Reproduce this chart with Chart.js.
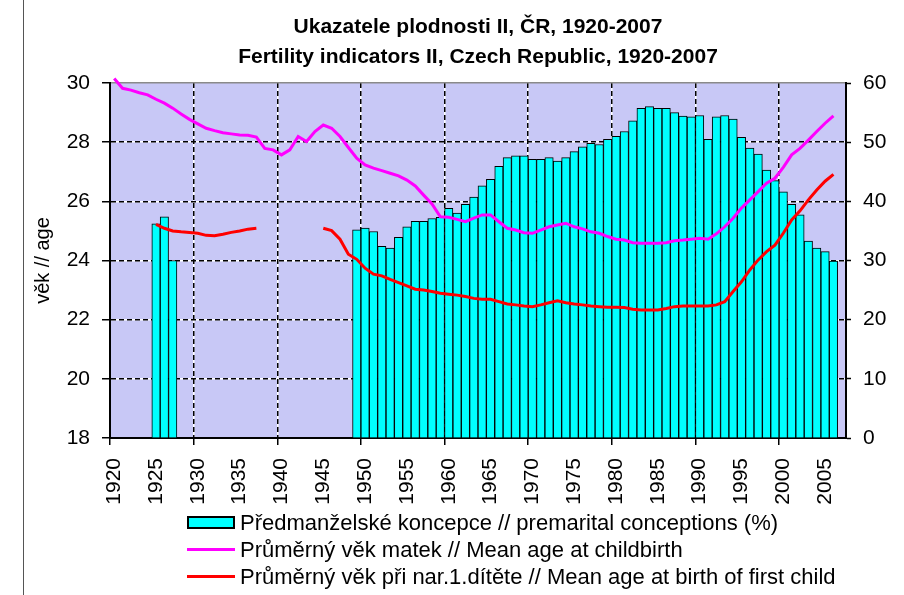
<!DOCTYPE html>
<html><head><meta charset="utf-8">
<script src="https://cdn.jsdelivr.net/npm/chart.js@4.4.0/dist/chart.umd.min.js"></script>
<style>
html,body{margin:0;padding:0;background:#fff;overflow:hidden;}
#wrap{position:relative;width:904px;height:595px;}
#c{position:absolute;left:0;top:0;}
#frame{position:absolute;left:23px;top:0;width:1px;height:595px;background:#555;}
#legend{position:absolute;left:187px;top:509px;font-family:'Liberation Sans',Arial,sans-serif;font-size:22px;color:#000;}
.row{height:27px;white-space:nowrap;display:flex;align-items:center;}
.sw{display:inline-block;width:48px;margin-right:5px;box-sizing:border-box;flex:none;}
</style></head><body>
<div id="wrap"><canvas id="c" width="904" height="595" style="width:904px;height:595px"></canvas><div id="frame"></div><div id="legend"></div></div>
<script>
const years = [1920,1921,1922,1923,1924,1925,1926,1927,1928,1929,
1930,1931,1932,1933,1934,1935,1936,1937,1938,1939,
1940,1941,1942,1943,1944,1945,1946,1947,1948,1949,
1950,1951,1952,1953,1954,1955,1956,1957,1958,1959,
1960,1961,1962,1963,1964,1965,1966,1967,1968,1969,
1970,1971,1972,1973,1974,1975,1976,1977,1978,1979,
1980,1981,1982,1983,1984,1985,1986,1987,1988,1989,
1990,1991,1992,1993,1994,1995,1996,1997,1998,1999,
2000,2001,2002,2003,2004,2005,2006,2007];

// Předmanželské koncepce (%) - right axis
const premarital = [null,null,null,null,null,
36.2,37.4,30.0,
null,null,null,null,null,null,null,null,null,null,null,null,null,null,null,null,null,null,null,null,null,
35.2,35.5,34.9,32.4,32.1,33.9,35.7,36.6,36.6,37.1,
37.3,38.8,38.0,39.5,40.7,42.6,43.7,45.9,47.4,47.7,
47.7,47.1,47.1,47.4,46.8,47.4,48.4,49.2,49.8,49.6,
50.5,51.0,51.8,53.6,55.7,56.0,55.7,55.7,55.0,54.4,
54.3,54.5,50.5,54.3,54.5,53.9,50.8,49.0,48.0,45.3,
43.5,41.6,39.5,37.7,33.3,32.1,31.5,29.9,null];

// Průměrný věk matek - left axis
const meanAgeAll = [30.15,29.82,29.76,29.67,29.6,29.45,29.32,29.15,28.95,28.77,
28.62,28.47,28.39,28.32,28.28,28.24,28.23,28.17,27.79,27.74,
27.57,27.74,28.19,28.02,28.36,28.58,28.47,28.19,27.82,27.46,
27.23,27.12,27.04,26.95,26.86,26.72,26.52,26.21,25.91,25.48,
25.46,25.39,25.31,25.43,25.54,25.54,25.31,25.09,25.03,24.94,
24.92,25.03,25.14,25.2,25.26,25.14,25.07,24.97,24.92,24.81,
24.72,24.69,24.6,24.58,24.58,24.58,24.6,24.67,24.69,24.72,
24.75,24.72,24.9,25.14,25.43,25.77,26.05,26.33,26.61,26.78,
27.15,27.57,27.79,28.07,28.36,28.64,28.89,null];

// Průměrný věk při nar. 1. dítěte - left axis
const meanAgeFirst = [null,null,null,null,null,
25.22,25.09,25.0,24.97,24.95,
24.92,24.85,24.84,24.89,24.95,25.0,25.06,25.09,
null,null,null,null,null,null,null,
25.09,25.01,24.72,24.21,24.04,
23.74,23.54,23.48,23.36,23.25,23.14,23.03,23.0,22.95,22.89,
22.86,22.83,22.78,22.72,22.69,22.69,22.61,22.53,22.5,22.46,
22.44,22.5,22.57,22.64,22.57,22.53,22.5,22.46,22.44,22.42,
22.42,22.41,22.35,22.33,22.33,22.33,22.38,22.44,22.46,22.46,
22.46,22.46,22.5,22.61,22.95,23.28,23.68,24.02,24.3,24.52,
24.92,25.37,25.68,26.05,26.38,26.68,26.91,null];

const titleLines = ['Ukazatele plodnosti II, ČR, 1920-2007','Fertility indicators II, Czech Republic, 1920-2007'];
const seriesNames = ['Předmanželské koncepce // premarital conceptions (%)',
  'Průměrný věk matek // Mean age at childbirth',
  'Průměrný věk při nar.1.dítěte // Mean age at birth of first child'];
const leftAxisTitle = 'věk // age';

const FONT = "'Liberation Sans', Arial, sans-serif";
const PLOT_BG = '#C8C8F6';
const GRID_W = 1.5;
const TRANSPARENT = 'rgba(0,0,0,0)';
const isDecade = i => i > 0 && i < years.length && years[i] % 10 === 0;
const align = (p, w) => Math.round(p - w / 2) + w / 2;

const bgPlugin = {
  id: 'plotBg',
  beforeDraw(chart) {
    const {ctx, chartArea: a, scales: {x, y}} = chart;
    ctx.save();
    ctx.fillStyle = PLOT_BG;
    ctx.fillRect(a.left, a.top, a.right - a.left, a.bottom - a.top);
    ctx.strokeStyle = '#fff';
    ctx.lineWidth = GRID_W;
    ctx.beginPath();
    y.ticks.forEach(t => {
      if (t.value > y.min && t.value < y.max) {
        const py = align(y.getPixelForValue(t.value), GRID_W);
        ctx.moveTo(a.left, py); ctx.lineTo(a.right, py);
      }
    });
    years.forEach((yr, i) => {
      if (isDecade(i)) {
        const px = align((x.getPixelForValue(i - 1) + x.getPixelForValue(i)) / 2, GRID_W);
        ctx.moveTo(px, a.top); ctx.lineTo(px, a.bottom);
      }
    });
    ctx.stroke();
    ctx.restore();
  }
};

const chart = new Chart(document.getElementById('c'), {
  type: 'bar',
  data: {
    labels: years,
    datasets: [
      {type: 'bar', label: seriesNames[0], data: premarital, yAxisID: 'y1',
       backgroundColor: '#00FFFF', borderColor: '#000', borderWidth: 1,
       barPercentage: 1, categoryPercentage: 1, order: 3},
      {type: 'line', label: seriesNames[1], data: meanAgeAll, yAxisID: 'y',
       borderColor: '#FF00FF', backgroundColor: '#FF00FF', borderWidth: 3,
       pointRadius: 0, tension: 0, spanGaps: false, clip: false, order: 1},
      {type: 'line', label: seriesNames[2], data: meanAgeFirst, yAxisID: 'y',
       borderColor: '#FF0000', backgroundColor: '#FF0000', borderWidth: 3,
       pointRadius: 0, tension: 0, spanGaps: false, clip: false, order: 2}
    ]
  },
  options: {
    responsive: false,
    animation: false,
    devicePixelRatio: 1,
    events: [],
    layout: {padding: {left: 0, right: 0, top: 0, bottom: 82}},
    plugins: {
      legend: {display: false},
      tooltip: {enabled: false},
      title: {
        display: true, text: titleLines, color: '#000', fullSize: false,
        font: {family: FONT, size: 21, weight: 'bold', lineHeight: 30 / 21},
        padding: {top: 12, bottom: 11}
      }
    },
    scales: {
      x: {
        type: 'category', offset: true,
        grid: {
          offset: true, drawOnChartArea: true, lineWidth: GRID_W,
          color: c => isDecade(c.index) ? '#000' : TRANSPARENT,
          tickLength: 7, tickWidth: 1.5, tickBorderDash: [],
          tickColor: c => (c.index === 0 || isDecade(c.index)) ? '#000' : TRANSPARENT
        },
        border: {display: true, color: '#000', width: 2, dash: [5, 3]},
        ticks: {
          autoSkip: false, minRotation: 90, maxRotation: 90, padding: 13, color: '#000',
          font: {family: FONT, size: 21},
          callback: (v, i) => years[i] % 5 === 0 ? String(years[i]) : ''
        },
        afterFit: s => { s.height = 75; }
      },
      y: {
        position: 'left', min: 18, max: 30,
        ticks: {stepSize: 2, padding: 12, color: '#000', font: {family: FONT, size: 21}},
        grid: {
          lineWidth: GRID_W,
          color: c => (c.tick && c.tick.value === 30) ? '#8a8a8a' : '#000',
          tickLength: 8, tickColor: '#000', tickWidth: 1.5, tickBorderDash: []
        },
        border: {display: true, color: '#000', width: 2,
          dash: c => (c.tick && c.tick.value === 30) ? [] : [5, 3]},
        title: {display: true, text: leftAxisTitle, color: '#000',
          font: {family: FONT, size: 20}, padding: {top: 31, bottom: 0}},
        afterFit: s => { s.width = 110; }
      },
      y1: {
        position: 'right', min: 0, max: 60,
        ticks: {stepSize: 10, padding: 12, color: '#000', font: {family: FONT, size: 21}},
        grid: {drawOnChartArea: false, tickLength: 5, tickColor: '#000', tickWidth: 1.5},
        border: {display: true, color: '#000', width: 2},
        afterFit: s => { s.width = 58; }
      }
    }
  },
  plugins: [bgPlugin]
});

// HTML legend built from the chart's datasets
const legend = document.getElementById('legend');
chart.data.datasets.forEach(ds => {
  const row = document.createElement('div');
  row.className = 'row';
  const sw = document.createElement('span');
  sw.className = 'sw';
  if (ds.type === 'bar') {
    sw.style.height = '13px';
    sw.style.background = ds.backgroundColor;
    sw.style.border = '2px solid #000';
  } else {
    sw.style.height = '3px';
    sw.style.background = ds.borderColor;
  }
  row.appendChild(sw);
  row.appendChild(document.createTextNode(ds.label));
  legend.appendChild(row);
});
</script>
</body></html>
